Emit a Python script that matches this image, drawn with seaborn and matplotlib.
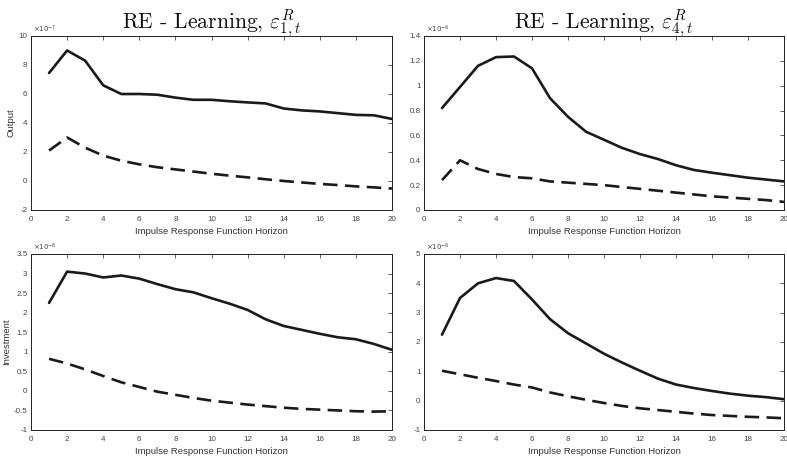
import numpy as np
import pandas as pd
import matplotlib
matplotlib.use("Agg")
import matplotlib.pyplot as plt
from matplotlib.ticker import FuncFormatter, MultipleLocator
import seaborn as sns

sns.set_theme(style="white")
plt.rcParams['font.family'] = ['Liberation Sans', 'DejaVu Sans']
plt.rcParams['mathtext.fontset'] = 'cm'
plt.rcParams['axes.unicode_minus'] = False

horizon = list(range(1, 21))

# Output, shock 1 (x 1e-7)
out1_solid = [7.45, 9.0, 8.3, 6.6, 6.0, 6.0, 5.95, 5.75, 5.6, 5.6, 5.5, 5.42, 5.35, 5.0, 4.87, 4.8, 4.68, 4.56, 4.53, 4.28]
out1_dash = [2.1, 3.0, 2.3, 1.75, 1.4, 1.15, 0.95, 0.8, 0.65, 0.5, 0.37, 0.25, 0.12, 0.0, -0.1, -0.2, -0.28, -0.37, -0.44, -0.52]
# Output, shock 4 (x 1e-6)
out4_solid = [0.82, 0.99, 1.16, 1.23, 1.235, 1.14, 0.9, 0.75, 0.63, 0.565, 0.5, 0.45, 0.41, 0.36, 0.322, 0.3, 0.28, 0.26, 0.245, 0.23]
out4_dash = [0.24, 0.40, 0.33, 0.29, 0.265, 0.255, 0.23, 0.22, 0.21, 0.20, 0.185, 0.17, 0.155, 0.14, 0.125, 0.11, 0.10, 0.09, 0.08, 0.065]
# Investment, shock 1 (x 1e-6)
inv1_solid = [2.25, 3.05, 3.0, 2.9, 2.95, 2.87, 2.73, 2.6, 2.52, 2.37, 2.23, 2.07, 1.83, 1.66, 1.56, 1.46, 1.37, 1.32, 1.2, 1.05]
inv1_dash = [0.82, 0.7, 0.55, 0.38, 0.22, 0.1, -0.02, -0.1, -0.18, -0.25, -0.3, -0.35, -0.39, -0.43, -0.46, -0.48, -0.5, -0.52, -0.53, -0.52]
# Investment, shock 4 (x 1e-6)
inv4_solid = [2.25, 3.5, 4.0, 4.18, 4.08, 3.45, 2.78, 2.3, 1.95, 1.6, 1.3, 1.02, 0.75, 0.55, 0.43, 0.33, 0.24, 0.17, 0.12, 0.05]
inv4_dash = [1.02, 0.9, 0.78, 0.67, 0.55, 0.45, 0.28, 0.15, 0.03, -0.08, -0.18, -0.26, -0.32, -0.38, -0.44, -0.49, -0.52, -0.55, -0.57, -0.6]

titles = [r"RE - Learning, $\varepsilon^{R}_{1,t}$", r"RE - Learning, $\varepsilon^{R}_{4,t}$"]
xlabel = "Impulse Response Function Horizon"
ylabels = ["Output", "Investment"]

panels = [
    dict(solid=out1_solid, dash=out1_dash, exp=-7, ylim=(-2, 10), step=2),
    dict(solid=out4_solid, dash=out4_dash, exp=-6, ylim=(0, 1.4), step=0.2),
    dict(solid=inv1_solid, dash=inv1_dash, exp=-6, ylim=(-1, 3.5), step=0.5),
    dict(solid=inv4_solid, dash=inv4_dash, exp=-6, ylim=(-1, 5), step=1),
]

fig = plt.figure(figsize=(7.87, 4.57), dpi=100)
W, H = 787, 457
boxes = [(31, 36, 392, 210), (424, 36, 784, 210), (31, 254, 392, 430), (424, 254, 784, 430)]

tick_color = '#444444'
line_color = '#1a1a1a'
for i, (p, b) in enumerate(zip(panels, boxes)):
    l, t, r, btm = b
    ax = fig.add_axes([l / W, 1 - btm / H, (r - l) / W, (btm - t) / H])
    scale = 10.0 ** p['exp']
    df = pd.DataFrame({
        'h': horizon * 2,
        'v': [v * scale for v in p['solid']] + [v * scale for v in p['dash']],
        'kind': ['solid'] * 20 + ['dash'] * 20,
    })
    sns.lineplot(data=df[df.kind == 'solid'], x='h', y='v', ax=ax, color=line_color, lw=1.9)
    sns.lineplot(data=df[df.kind == 'dash'], x='h', y='v', ax=ax, color=line_color, lw=1.9,
                 linestyle=(0, (5.5, 2.8)))
    ax.set_xlim(0, 20)
    ax.set_ylim(p['ylim'][0] * scale, p['ylim'][1] * scale)
    ax.xaxis.set_major_locator(MultipleLocator(2))
    ax.yaxis.set_major_locator(MultipleLocator(p['step'] * scale))
    ax.yaxis.set_major_formatter(FuncFormatter(lambda v, pos, s=scale: '%g' % round(v / s, 6)))
    ax.tick_params(axis='both', direction='in', length=3, width=0.6, top=True, right=True,
                   labelsize=5.8, colors=tick_color)
    ax.tick_params(axis='x', pad=4)
    ax.tick_params(axis='y', pad=2.5)
    for sp in ax.spines.values():
        sp.set_linewidth(0.7)
        sp.set_color('#222222')
    ax.set_xlabel(xlabel, fontsize=6.8, color='#333333', labelpad=3)
    if i % 2 == 0:
        ax.set_ylabel(ylabels[i // 2], fontsize=6.8, color='#333333', labelpad=2)
    else:
        ax.set_ylabel('')
    if i < 2:
        ax.set_title(titles[i], fontsize=15.5, color='#111111', pad=5, fontfamily='cmr10')
    ax.text(0.005, 1.005, r'$\times 10^{%d}$' % p['exp'], transform=ax.transAxes,
            fontsize=5, color=tick_color, ha='left', va='bottom',
            math_fontfamily='dejavusans')

fig.savefig('out.png', dpi=100)
